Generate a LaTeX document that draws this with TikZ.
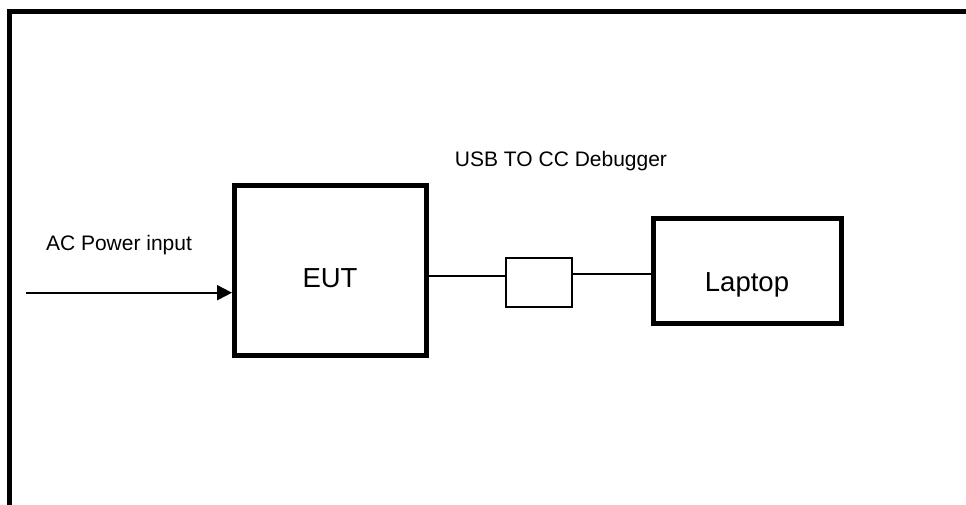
\documentclass[tikz,border=0pt]{standalone}
\usepackage{fontspec}
\setmainfont{Liberation Sans}
\usetikzlibrary{arrows.meta}
\begin{document}
\begin{tikzpicture}[x=1pt,y=-1pt,
  thickbox/.style={draw=black,line width=5pt,inner sep=0pt},
  smallbox/.style={draw=black,line width=1.8pt,inner sep=0pt},
  wire/.style={line width=1.9pt},
  lbl/.style={font=\fontsize{21}{25}\selectfont,inner sep=0pt},
  biglbl/.style={font=\fontsize{27.5}{32}\selectfont,inner sep=0pt}]
\useasboundingbox (0,0) rectangle (966,504);
\begin{scope}
\clip (0,0) rectangle (966,504);
\draw[line width=5pt] (9.5,520) -- (9.5,11.5) -- (980,11.5);
\end{scope}
\node[thickbox,minimum width=192pt,minimum height=170.5pt] (eut) at (330.5,270.25) {};
\node[thickbox,minimum width=187.8pt,minimum height=105pt] (laptop) at (747.4,271) {};
\node[biglbl] (eutt) at (330,278) {EUT};
\node[biglbl] (laptopt) at (747,285) {Laptop};
\node[smallbox,minimum width=66pt,minimum height=49pt] (dbg) at (539,282.5) {};
\coordinate (src) at (26,292.7);
\draw[line width=2pt,-{Triangle[length=15pt,width=15pt]}] (src) -- (src -| eut.west);
\draw[wire] (eut.east |- 0,275.7) -- (dbg.west |- 0,275.7);
\draw[wire] (dbg.east |- 0,274.3) -- (laptop.west |- 0,274.3);
\node[lbl] (ac) at (119,245) {AC Power input};
\node[lbl] (usb) at (561,161) {USB TO CC Debugger};
\end{tikzpicture}
\end{document}
